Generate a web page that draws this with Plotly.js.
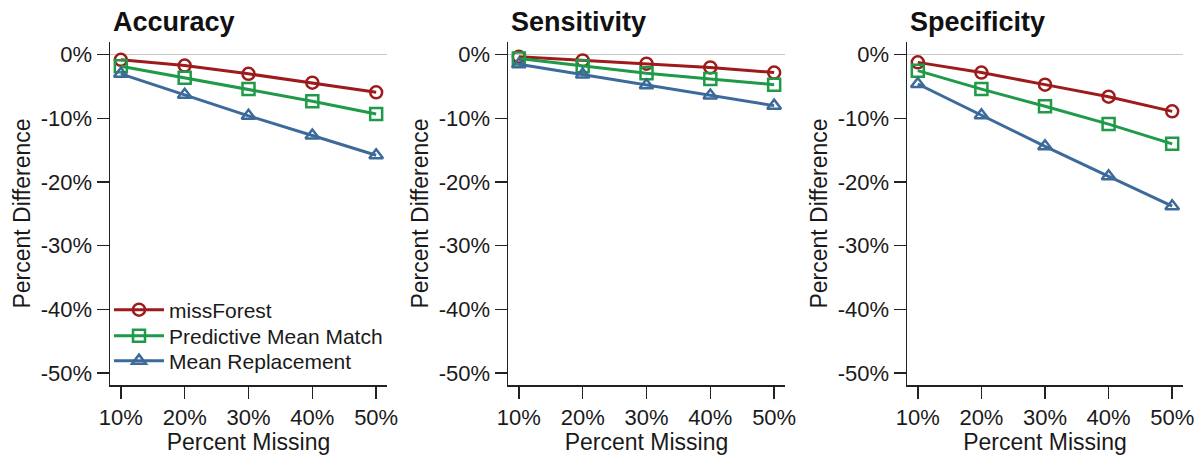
<!DOCTYPE html>
<html>
<head>
<meta charset="utf-8">
<script src="https://cdn.plot.ly/plotly-3.0.1.min.js"></script>
<style>
html,body{margin:0;padding:0;background:#fff;}
#chart{width:1197px;height:455px;}
</style>
</head>
<body>
<div id="chart"></div>
<script>
// ---- data ----
const percentMissing = [10, 20, 30, 40, 50];
const xTickLabels = ["10%", "20%", "30%", "40%", "50%"];
const yTickValues = [0, -10, -20, -30, -40, -50];
const yTickLabels = ["0%", "-10%", "-20%", "-30%", "-40%", "-50%"];
const panelTitles = ["Accuracy", "Sensitivity", "Specificity"];
const seriesNames = ["missForest", "Predictive Mean Match", "Mean Replacement"];

const accuracyMissForest = [-0.8, -1.7, -3.0, -4.4, -5.9];
const accuracyPMM        = [-1.8, -3.6, -5.4, -7.3, -9.3];
const accuracyMeanRep    = [-3.0, -6.3, -9.6, -12.7, -15.8];

const sensitivityMissForest = [-0.3, -0.9, -1.4, -2.0, -2.8];
const sensitivityPMM        = [-0.6, -1.8, -2.9, -3.8, -4.7];
const sensitivityMeanRep    = [-1.5, -3.1, -4.8, -6.4, -8.0];

const specificityMissForest = [-1.2, -2.8, -4.7, -6.6, -8.9];
const specificityPMM        = [-2.5, -5.4, -8.1, -10.9, -14.0];
const specificityMeanRep    = [-4.6, -9.5, -14.4, -19.1, -23.8];

// ---- styles ----
const colors = ["#9e1b1b", "#1e9a48", "#3c6a9a"];
const symbols = ["circle-open", "square-open", "triangle-up-open"];
const FONT = "Liberation Sans, Arial, Helvetica, sans-serif";

const panels = [
  [accuracyMissForest, accuracyPMM, accuracyMeanRep],
  [sensitivityMissForest, sensitivityPMM, sensitivityMeanRep],
  [specificityMissForest, specificityPMM, specificityMeanRep]
];

const W = 1197, H = 455;
const xDomainsPx = [[110, 387], [508, 785], [907, 1183]];
const yDomain = [1 - 385 / H, 1 - 42 / H];
const legendCentersPx = [310, 336, 361];
const legendIds = ["legend", "legend2", "legend3"];

const traces = [];
panels.forEach((series, p) => {
  series.forEach((vals, s) => {
    traces.push({
      type: "scatter",
      mode: "lines+markers",
      x: percentMissing,
      y: vals,
      name: seriesNames[s],
      legend: legendIds[s],
      showlegend: p === 0,
      xaxis: p === 0 ? "x" : "x" + (p + 1),
      yaxis: p === 0 ? "y" : "y" + (p + 1),
      line: { color: colors[s], width: 3 },
      marker: { symbol: symbols[s], size: 12, color: colors[s], line: { width: 2.5, color: colors[s] } }
    });
  });
});

const layout = {
  width: W, height: H,
  margin: { l: 0, r: 0, t: 0, b: 0 },
  paper_bgcolor: "#fff",
  plot_bgcolor: "#fff",
  font: { family: FONT, color: "#1a1a1a", size: 22 },
  showlegend: true,
  annotations: [],
  hovermode: false
};

legendIds.forEach((id, s) => {
  layout[id] = {
    x: 109 / W, y: 1 - legendCentersPx[s] / H, xanchor: "left", yanchor: "middle",
    bgcolor: "rgba(0,0,0,0)",
    font: { family: FONT, size: 21, color: "#1a1a1a" },
    itemwidth: 50
  };
});

panelTitles.forEach((t, p) => {
  const sfx = p === 0 ? "" : String(p + 1);
  layout["xaxis" + sfx] = {
    domain: [xDomainsPx[p][0] / W, xDomainsPx[p][1] / W],
    anchor: "y" + sfx,
    range: [8.3, 51.7],
    tickmode: "array",
    tickvals: percentMissing,
    ticktext: xTickLabels,
    ticks: "outside", ticklen: 12, tickwidth: 1.5, tickcolor: "#222",
    showline: true, linecolor: "#222", linewidth: 1.5,
    showgrid: false, zeroline: false,
    tickfont: { family: FONT, size: 22, color: "#1a1a1a" },
    title: { text: "Percent Missing", font: { family: FONT, size: 23, color: "#1a1a1a" }, standoff: 6 },
    fixedrange: true
  };
  layout["yaxis" + sfx] = {
    domain: yDomain,
    anchor: "x" + sfx,
    range: [-51.9, 2.0],
    tickmode: "array",
    tickvals: yTickValues,
    ticktext: yTickLabels,
    ticks: "outside", ticklen: 12, tickwidth: 1.5, tickcolor: "#222",
    showline: true, linecolor: "#222", linewidth: 1.5,
    showgrid: false,
    zeroline: true, zerolinecolor: "#c8c8c8", zerolinewidth: 1.5,
    tickfont: { family: FONT, size: 22, color: "#1a1a1a" },
    title: { text: "Percent Difference", font: { family: FONT, size: 23, color: "#1a1a1a" }, standoff: 3 },
    fixedrange: true
  };
  layout.annotations.push({
    text: "<b>" + t + "</b>",
    xref: "paper", yref: "paper",
    x: (xDomainsPx[p][0] + 1) / W, y: 1 - 22 / H,
    xanchor: "left", yanchor: "middle",
    showarrow: false,
    font: { family: FONT, size: 27, color: "#111" }
  });
});

Plotly.newPlot("chart", traces, layout, { displayModeBar: false, staticPlot: true });
</script>
</body>
</html>
